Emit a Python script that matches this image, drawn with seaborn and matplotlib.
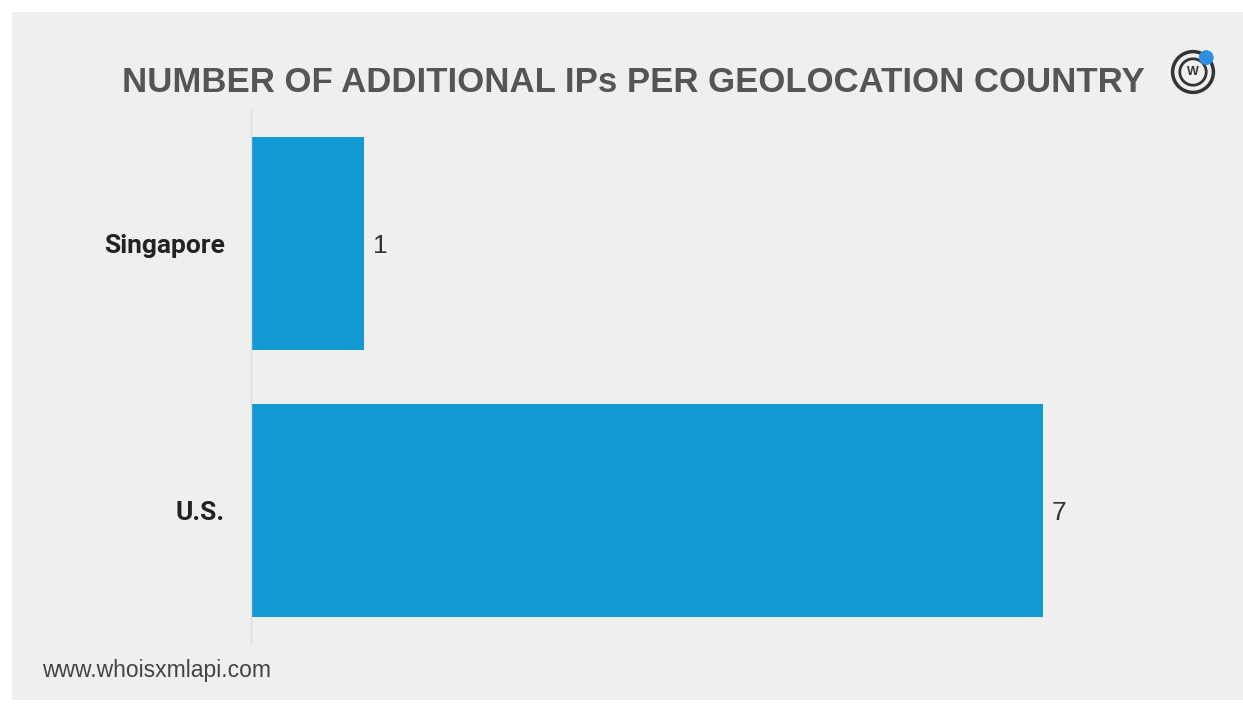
import matplotlib
matplotlib.use("Agg")
import matplotlib.pyplot as plt
import seaborn as sns
import pandas as pd
from matplotlib.patches import Rectangle, Circle

countries = ["Singapore", "U.S."]
ips = [1, 7]
title = "NUMBER OF ADDITIONAL IPs PER GEOLOCATION COUNTRY"
footer = "www.whoisxmlapi.com"

sns.set_theme(style="white")
plt.rcParams['font.family'] = ['Liberation Sans', 'DejaVu Sans']

W, H = 1243, 706
fig = plt.figure(figsize=(W / 100, H / 100), dpi=100)
fig.patch.set_facecolor("white")
# light gray panel
fig.add_artist(Rectangle((12 / W, 6 / H), (W - 12) / W, (H - 18) / H,
                         transform=fig.transFigure, facecolor="#efefef",
                         edgecolor="none", zorder=-10))

ax_left, ax_right = 251, 1130
ax_top, ax_bottom = 110, 644
ax = fig.add_axes([ax_left / W, 1 - ax_bottom / H, (ax_right - ax_left) / W,
                   (ax_bottom - ax_top) / H])
ax.set_facecolor("none")

df = pd.DataFrame({"country": countries, "ips": ips})
sns.barplot(data=df, x="ips", y="country", color="#1399d2", saturation=1,
            width=0.8, ax=ax, orient="h", linewidth=0, edgecolor="none")
ax.set_xlim(0, (ax_right - ax_left) / 113.1)
ax.set_ylim(1.5, -0.5)
ax.set_xlabel("")
ax.set_ylabel("")
ax.set_xticks([])
for s in ["top", "right", "bottom"]:
    ax.spines[s].set_visible(False)
ax.spines["left"].set_color("#dcdcdc")
ax.spines["left"].set_linewidth(1)
ax.tick_params(axis="y", length=0, pad=19)
for lbl in ax.get_yticklabels():
    lbl.set_fontfamily(["Roboto", "DejaVu Sans"])
    lbl.set_fontweight("bold")
    lbl.set_fontsize(19)
    lbl.set_color("#222222")

for i, v in enumerate(ips):
    ax.text(v + 0.08, i + 0.01, str(v), va="center", ha="left", fontsize=19,
            color="#333333")

fig.text(633 / W, 1 - 82 / H, title, ha="center", va="center",
         fontsize=25, fontweight="bold", color="#555555")
fig.text(42 / W, 1 - 670 / H, footer, ha="left", va="center",
         fontsize=16.5, color="#444444")

# simple logo
lx, ly = 1193, 72
ax_logo = fig.add_axes([(lx - 24) / W, 1 - (ly + 24) / H, 48 / W, 48 / H])
ax_logo.set_xlim(-1, 1)
ax_logo.set_ylim(-1, 1)
ax_logo.set_aspect("equal")
ax_logo.axis("off")
ax_logo.add_patch(Circle((0, 0), 0.85, fill=False, lw=2.5, edgecolor="#333333"))
ax_logo.add_patch(Circle((0, 0), 0.55, fill=False, lw=2, edgecolor="#333333"))
ax_logo.add_patch(Circle((0.55, 0.6), 0.28, color="#2f8fe0"))
ax_logo.text(0, -0.02, "W", ha="center", va="center", fontsize=9,
             fontweight="bold", color="#333333")

fig.savefig("out.png", dpi=100, facecolor=fig.get_facecolor())
